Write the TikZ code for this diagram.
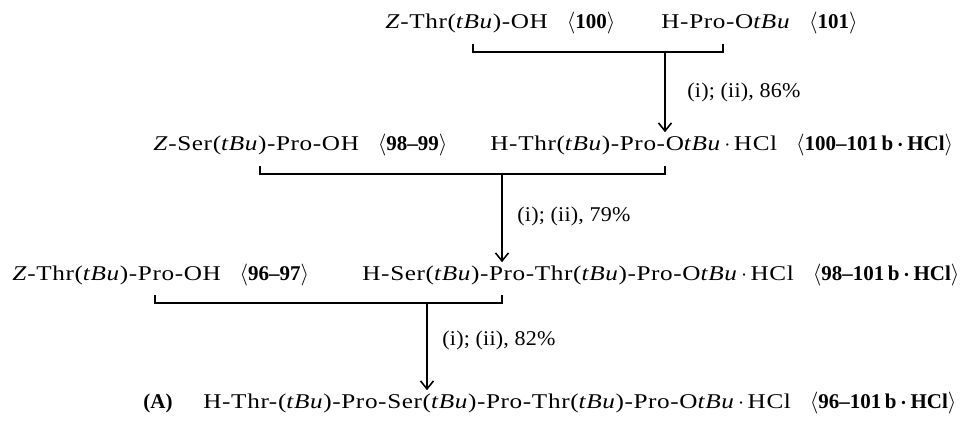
\documentclass[tikz,border=0pt]{standalone}
\usepackage{amsmath}
\usepackage{fontspec}
\setmainfont{Liberation Serif}
% wide, slightly tracked face for the peptide sequences
\newfontfamily\chemfont[FakeStretch=1.2,LetterSpace=3]{Liberation Serif}
\newfontfamily\condfont[FakeStretch=1.05,LetterSpace=1]{Liberation Serif}
\usetikzlibrary{arrows.meta}
% peptide notation helpers
\newcommand\TBu{\textit{tBu}}
\newcommand\Zg{\textit{Z}}
\newcommand\cpd[1]{\hspace{0.9em}{\normalfont$\langle$\textbf{#1}$\rangle$}}
\newcommand\dotHCl{\,$\cdot$\,HCl}
\newcommand\bdotHCl{\,$\boldsymbol{\cdot}$\,HCl}
\begin{document}
\begin{tikzpicture}[x=0.5pt,y=-0.5pt,
  chem/.style={anchor=base west, inner sep=0pt,
    font={\fontsize{10.5}{13}\chemfont}},
  cond/.style={anchor=west, inner sep=0pt, font={\fontsize{10.5}{13}\condfont}},
  bracket/.style={line width=0.8pt},
  rxn/.style={line width=0.8pt, -{Straight Barb[length=4pt,width=6.5pt]}, shorten >=0.5pt}]
\useasboundingbox (0,0) rectangle (963,420);

% starting materials and products, row by row
\node[chem] (r1a) at (385,28) {\Zg-Thr(\TBu)-OH\cpd{100}};
\node[chem] (r1b) at (661,28) {H-Pro-O\TBu\cpd{101}};
\node[chem] (r2a) at (153,150) {\Zg-Ser(\TBu)-Pro-OH\cpd{98--99}};
\node[chem] (r2b) at (490,150) {H-Thr(\TBu)-Pro-O\TBu\dotHCl\cpd{100--101\,b\bdotHCl}};
\node[chem] (r3a) at (12,280) {\Zg-Thr(\TBu)-Pro-OH\cpd{96--97}};
\node[chem] (r3b) at (362,280) {H-Ser(\TBu)-Pro-Thr(\TBu)-Pro-O\TBu\dotHCl\cpd{98--101\,b\bdotHCl}};
\node[chem] (tagA) at (143,408) {\normalfont\textbf{(A)}};
\node[chem] (r4) at (203,408) {H-Thr-(\TBu)-Pro-Ser(\TBu)-Pro-Thr(\TBu)-Pro-O\TBu\dotHCl\cpd{96--101\,b\bdotHCl}};

% coupling brackets
\coordinate (k1l) at (473,44); \coordinate (k1r) at (723,44); \coordinate (k1m) at (665,52);
\coordinate (k2l) at (260,166); \coordinate (k2r) at (665,166); \coordinate (k2m) at (502,174);
\coordinate (k3l) at (155,295); \coordinate (k3r) at (502,295); \coordinate (k3m) at (427,303);

\draw[bracket] (k1l) -- (k1l |- k1m) -- (k1r |- k1m) -- (k1r);
\draw[bracket] (k2l) -- (k2l |- k2m) -- (k2r |- k2m) -- (k2r);
\draw[bracket] (k3l) -- (k3l |- k3m) -- (k3r |- k3m) -- (k3r);

% reaction arrows with conditions
\draw[rxn] (k1m) -- (k1m |- r2b.north);
\draw[rxn] (k2m) -- (k2m |- r3b.north);
\draw[rxn] (k3m) -- (k3m |- r4.north);

\node[cond] (c1) at (687,92) {(i); (ii), 86\%};
\node[cond] (c2) at (517,216) {(i); (ii), 79\%};
\node[cond] (c3) at (442,340) {(i); (ii), 82\%};
\end{tikzpicture}
\end{document}
